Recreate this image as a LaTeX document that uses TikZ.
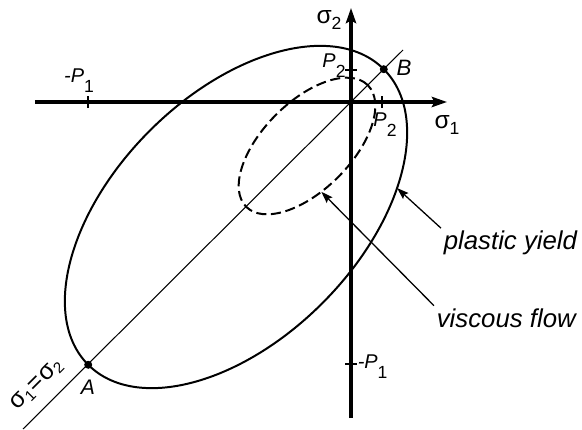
\documentclass[tikz,border=0pt]{standalone}
\usepackage{fontspec}
\setmainfont{Liberation Sans}
\usetikzlibrary{arrows.meta}

\newcommand{\psub}[1]{\raisebox{-4.3pt}{\fontsize{7.5}{8}\selectfont\upshape #1}}
\newcommand{\ssub}[1]{\raisebox{-2.4pt}{\fontsize{7.5}{8}\selectfont #1}}
\newcommand{\dsub}[1]{\raisebox{-1.6pt}{\fontsize{6.5}{7}\selectfont #1}}

\begin{document}
\begin{tikzpicture}[x=0.015cm,y=0.015cm,
    axis/.style={line width=1.3pt,-{Stealth[length=6.5pt,width=4.4pt,inset=1.2pt]}},
    yieldcurve/.style={line width=0.85pt},
    flowcurve/.style={line width=0.85pt,dash pattern=on 4.3pt off 2pt},
    pointer/.style={line width=0.55pt,-{Stealth[length=5pt,width=3.4pt,inset=0.8pt]}},
    tickmark/.style={line width=0.45pt},
    plabel/.style={font=\fontsize{8.5}{10}\selectfont\itshape,inner sep=1pt},
    slabel/.style={font=\fontsize{10.5}{12}\selectfont,inner sep=1pt},
    note/.style={font=\fontsize{11}{13}\selectfont\itshape,inner sep=1pt}]

    \useasboundingbox (-351,-327) rectangle (231,102);

    % ends of the axes and of the line sigma1 = sigma2
    \coordinate (O) at (0,0);
    \coordinate (xl) at (-316,0);
    \coordinate (xr) at (96,0);
    \coordinate (yb) at (0,-316);
    \coordinate (yt) at (0,94);
    \coordinate (dl) at (-328,-327);
    \coordinate (dr) at (52,52);

    \draw[line width=0.45pt] (dl) -- (dr);

    % plastic yield surface
    \begin{scope}[shift={(-115,-115)},rotate=45]
        \draw[yieldcurve] (0,0) ellipse [x radius=209,y radius=122];
        \coordinate (A) at (180:209);
        \coordinate (B) at (0:209);
        \coordinate (py) at (-50:209 and 122);
    \end{scope}

    % viscous flow surface
    \begin{scope}[shift={(-44,-44)},rotate=45]
        \draw[flowcurve] (0,0) ellipse [x radius=86,y radius=44];
        \coordinate (vf) at (-105:86 and 44);
    \end{scope}

    \draw[axis] (xl) -- (xr);
    \draw[axis] (yb) -- (yt);

    % ticks
    \draw[tickmark] (-263,-6) -- (-263,6);
    \draw[tickmark] (31,-6) -- (31,6);
    \draw[tickmark] (-6,32) -- (6,32);
    \draw[tickmark] (-6,-262) -- (6,-262);

    \foreach \p in {A,B}{
        \fill (\p) circle (4);
    }

    \node[slabel] (s1) at (96,-23) {σ\ssub{1}};
    \node[slabel] (s2) at (-22,82) {σ\ssub{2}};
    \node[slabel,rotate=45] (s12) at (-314,-283) {σ\dsub{1}\kern0.4pt=\kern0.4ptσ\dsub{2}};

    \node[plabel] (mP1x) at (-272,21) {-P\psub{1}};
    \node[plabel] (P2x) at (34,-23) {P\psub{2}};
    \node[plabel] (P2y) at (-17,36) {P\psub{2}};
    \node[plabel,anchor=west] (mP1y) at (4,-265) {-P\psub{1}};
    \node[plabel,font=\fontsize{9}{10}\selectfont\itshape] (lA) at (-263,-285) {A};
    \node[plabel,font=\fontsize{9.5}{10}\selectfont\itshape] (lB) at (53,34) {B};

    \node[note,anchor=west] (plastic) at (90,-141) {plastic yield};
    \node[note,anchor=west] (viscous) at (83,-216) {viscous flow};

    \draw[pointer] (plastic.north west) -- (py);
    \draw[pointer] (viscous.north west) -- (vf);
\end{tikzpicture}
\end{document}
